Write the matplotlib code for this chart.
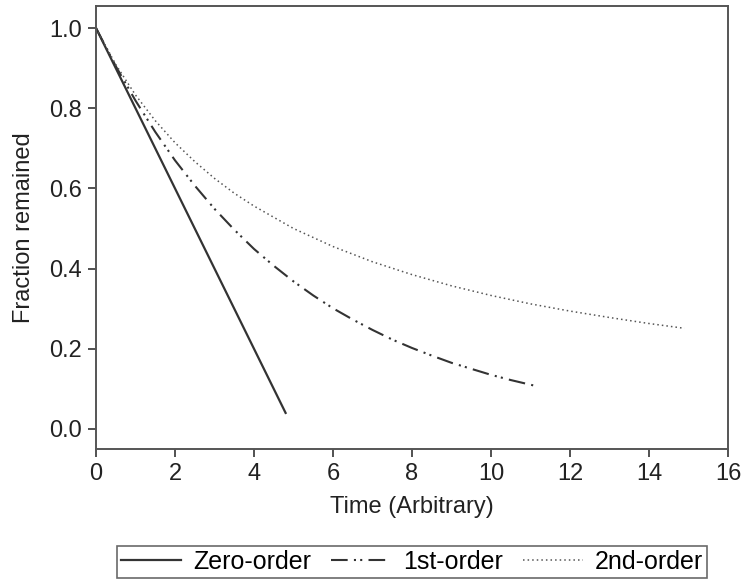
import matplotlib.pyplot as plt
import numpy as np

plt.rcParams["font.family"] = ["Liberation Sans", "DejaVu Sans"]

# values
zero_t = [0, 4.8]
zero_f = [1.0, 0.04]

first_t = [0, 0.5, 1, 1.5, 2, 2.5, 3, 3.5, 4, 4.5, 5, 5.5, 6, 6.5, 7, 7.5, 8,
           8.5, 9, 9.5, 10, 10.5, 11.1]
first_f = [1.0, 0.905, 0.819, 0.741, 0.670, 0.607, 0.549, 0.497, 0.449, 0.407,
           0.368, 0.333, 0.301, 0.273, 0.247, 0.223, 0.202, 0.183, 0.165,
           0.150, 0.135, 0.122, 0.108]

second_t = [0, 0.5, 1, 1.5, 2, 2.5, 3, 3.5, 4, 5, 6, 7, 8, 9, 10, 11, 12, 13,
            14, 14.9]
second_f = [1.0, 0.909, 0.833, 0.769, 0.714, 0.667, 0.625, 0.588, 0.556, 0.500,
            0.455, 0.417, 0.385, 0.357, 0.333, 0.312, 0.294, 0.278, 0.263,
            0.251]

fig = plt.figure(figsize=(7.43, 5.8), dpi=100)
ax = fig.add_axes([96 / 743, 1 - 449 / 580, 632 / 743, 443 / 580])

ax.plot(zero_t, zero_f, color="#333333", lw=1.6, label="Zero-order")
ax.plot(first_t, first_f, color="#333333", lw=1.5,
        dashes=(8, 3, 1, 2, 1, 3), label="1st-order")
ax.plot(second_t, second_f, color="#555555", lw=1.1,
        dashes=(1, 2), label="2nd-order")

ax.set_xlim(0, 16)
ax.set_ylim(-0.05, 1.055)
ax.set_xticks(np.arange(0, 17, 2))
ax.set_yticks(np.arange(0, 1.01, 0.2))
ax.set_yticklabels(["0.0", "0.2", "0.4", "0.6", "0.8", "1.0"])
ax.tick_params(direction="out", length=6, width=1.2, labelsize=17, pad=4,
               colors="#333333", labelcolor="#222222")
for s in ax.spines.values():
    s.set_color("#555555")
    s.set_linewidth(1.4)

ax.set_xlabel("Time (Arbitrary)", fontsize=17, color="#222222", labelpad=8)
ax.set_ylabel("Fraction remained", fontsize=17, color="#222222", labelpad=10)

leg = fig.legend(loc="lower center", bbox_to_anchor=(412 / 743, 0.0), ncol=3,
                 fontsize=18, frameon=True, fancybox=False, edgecolor="#444444",
                 handlelength=2.4, columnspacing=0.8, borderpad=0.15,
                 handletextpad=0.48, borderaxespad=0.1)
leg.get_frame().set_linewidth(1.2)

fig.savefig("out.png", dpi=100)
